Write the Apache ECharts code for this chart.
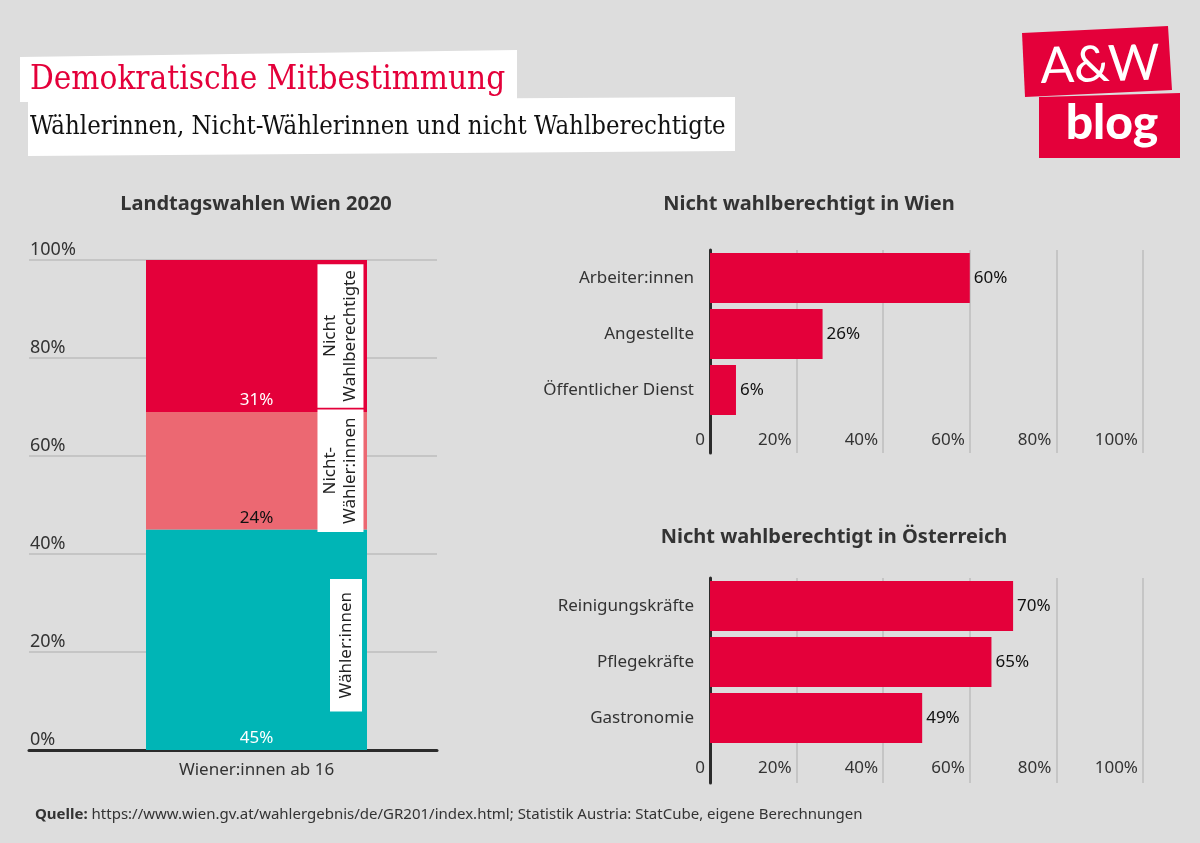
<!DOCTYPE html>
<html>
<head>
<meta charset="utf-8">
<script src="https://cdn.jsdelivr.net/npm/echarts@6/dist/echarts.min.js"></script>
<style>html,body{margin:0;padding:0;background:#dddddd;}#c{width:1200px;height:843px;}</style>
</head>
<body>
<div id="c"></div>
<script>
// ---- data ----
const leftCategory = ['Wiener:innen ab 16'];
const segNames = ['Wähler:innen', 'Nicht-\nWähler:innen', 'Nicht\nWahlberechtigte'];
const segValues = [45, 24, 31];
const wienCats = ['Arbeiter:innen', 'Angestellte', 'Öffentlicher Dienst'];
const wienValues = [60, 26, 6];
const oeCats = ['Reinigungskräfte', 'Pflegekräfte', 'Gastronomie'];
const oeValues = [70, 65, 49];
const pctMax = 100;
const pctStep = 20;

const RED = '#e4003a', PINK = '#ec6872', TEAL = '#00b5b6';
const segColors = [TEAL, PINK, RED];
const segLabelColors = ['#ffffff', '#111111', '#ffffff'];
const FONT = "'Noto Sans', sans-serif";
const SERIF = "'DejaVu Serif Condensed', 'Liberation Serif', serif";
const FS = 17;
const GRID_C = '#bdbdbd', AXIS_C = '#2b2b2b';

const chart = echarts.init(document.getElementById('c'), null, {renderer: 'canvas'});

const pctFmt = v => v === 0 ? '0' : v + '%';

function rightAxes(gMain, gExt, cats) {
  const x = [
    {gridIndex: gMain, type: 'value', min: 0, max: pctMax, interval: pctStep,
     axisLine: {show: false}, axisTick: {show: false},
     splitLine: {show: true, lineStyle: {color: GRID_C, width: 1.5}},
     axisLabel: {formatter: pctFmt, align: 'right', padding: [0, 5, 0, 0], margin: 14,
                 fontSize: FS, color: '#333', fontFamily: FONT}},
    {gridIndex: gExt, type: 'value', min: 0, max: pctMax, interval: pctStep,
     axisLine: {show: false}, axisTick: {show: false}, axisLabel: {show: false},
     splitLine: {show: true, lineStyle: {color: GRID_C, width: 1.5}}}
  ];
  const y = [
    {gridIndex: gMain, type: 'category', data: cats, inverse: true,
     axisLine: {show: true, lineStyle: {color: AXIS_C, width: 3}}, axisTick: {show: false},
     axisLabel: {fontSize: FS, color: '#333', margin: 16, fontFamily: FONT}},
    {gridIndex: gExt, type: 'category', data: [''],
     axisLine: {show: true, lineStyle: {color: AXIS_C, width: 3}}, axisTick: {show: false},
     axisLabel: {show: false}}
  ];
  return {x, y};
}
const r1 = rightAxes(2, 3, wienCats);
const r2 = rightAxes(4, 5, oeCats);

const series = [];
// stacked segments with percent labels
segValues.forEach((v, i) => {
  series.push({
    type: 'bar', xAxisIndex: 1, yAxisIndex: 1, stack: 'v', barWidth: 221, barGap: '-100%',
    name: segNames[i], data: [v], silent: true,
    itemStyle: {color: segColors[i]},
    label: {show: true, position: 'insideBottom', distance: 3, formatter: '{c}%',
            fontSize: FS, color: segLabelColors[i], fontFamily: FONT}
  });
});
// overlay carrying the rotated name boxes
const namePad = [[6, 13], [3, 8], [3, 6]];
const namePos = [['90.5%', '52.5%'], ['88%', '50%'], ['88%', '50%']];
segValues.forEach((v, i) => {
  series.push({
    type: 'bar', xAxisIndex: 1, yAxisIndex: 1, stack: 'n', barWidth: 221, barGap: '-100%',
    name: 'n' + i, data: [v], silent: true, z: 5,
    itemStyle: {color: 'rgba(0,0,0,0)'},
    label: {show: true, position: namePos[i], rotate: 90, align: 'center', verticalAlign: 'middle',
            formatter: segNames[i], backgroundColor: '#ffffff', padding: namePad[i],
            fontSize: FS, lineHeight: 20, color: '#222', fontFamily: FONT}
  });
});
series.push({
  type: 'bar', xAxisIndex: 2, yAxisIndex: 2, data: wienValues, barWidth: 50, silent: true,
  itemStyle: {color: RED},
  label: {show: true, position: 'right', distance: 4, formatter: '{c}%', fontSize: FS, color: '#111', fontFamily: FONT}
});
series.push({
  type: 'bar', xAxisIndex: 4, yAxisIndex: 4, data: oeValues, barWidth: 50, silent: true,
  itemStyle: {color: RED},
  label: {show: true, position: 'right', distance: 4, formatter: '{c}%', fontSize: FS, color: '#111', fontFamily: FONT}
});

const subTitle = {fontSize: 20, fontWeight: 'bold', color: '#333', fontFamily: FONT};

chart.setOption({
  backgroundColor: '#dddddd',
  animation: false,
  title: [
    {text: 'Demokratische Mitbestimmung', left: 30, top: 64, z: 10, padding: 0,
     textStyle: {fontSize: 33, fontWeight: 'normal', color: RED, fontFamily: SERIF}},
    {text: 'Wählerinnen, Nicht-Wählerinnen und nicht Wahlberechtigte', left: 30, top: 114, z: 10, padding: 0,
     textStyle: {fontSize: 25.5, fontWeight: 'normal', color: '#111', fontFamily: SERIF}},
    {text: 'Landtagswahlen Wien 2020', left: 256, top: 194, padding: 0, textAlign: 'center', textStyle: subTitle},
    {text: 'Nicht wahlberechtigt in Wien', left: 809, top: 194, padding: 0, textAlign: 'center', textStyle: subTitle},
    {text: 'Nicht wahlberechtigt in Österreich', left: 834, top: 527, padding: 0, textAlign: 'center', textStyle: subTitle},
    {text: '{b|Quelle:} https://www.wien.gv.at/wahlergebnis/de/GR201/index.html; Statistik Austria: StatCube, eigene Berechnungen',
     left: 35, top: 807, padding: 0,
     textStyle: {fontSize: 15, fontWeight: 'normal', color: '#333', fontFamily: FONT,
                 rich: {b: {fontSize: 15, fontWeight: 'bold', color: '#333', fontFamily: FONT}}}}
  ],
  graphic: [
    {type: 'polygon', z: 1, shape: {points: [[20, 57], [517, 50], [517, 100], [20, 102]]}, style: {fill: '#ffffff'}},
    {type: 'polygon', z: 1, shape: {points: [[28, 101], [735, 97], [735, 151], [28, 156]]}, style: {fill: '#ffffff'}},
    {type: 'polygon', z: 1, shape: {points: [[1022, 33], [1168, 26], [1172, 90], [1025, 97]]}, style: {fill: RED}},
    {type: 'polygon', z: 1, shape: {points: [[1039, 97], [1180, 93], [1180, 158], [1039, 158]]}, style: {fill: RED}},
    {type: 'text', z: 2, x: 1100, y: 65, rotation: 0.03,
     style: {text: 'A&W', fill: '#fff', fontSize: 50, fontWeight: 'normal', fontFamily: "Lato, 'Open Sans', sans-serif", align: 'center', verticalAlign: 'middle'}},
    {type: 'text', z: 2, x: 1112, y: 124,
     style: {text: 'blog', fill: '#fff', fontSize: 48, fontWeight: 900, fontFamily: "Lato, 'Open Sans', sans-serif", align: 'center', verticalAlign: 'middle'}}
  ],
  grid: [
    {left: 29, right: 763, top: 260, bottom: 93},
    {left: 76, right: 763, top: 260, bottom: 93},
    {left: 710, right: 57, top: 250, height: 168},
    {left: 710, right: 57, top: 418, height: 35},
    {left: 710, right: 57, top: 578, height: 168},
    {left: 710, right: 57, top: 746, height: 37}
  ],
  xAxis: [
    {gridIndex: 0, type: 'value', min: 0, max: 1, axisLine: {show: true, onZero: false, lineStyle: {color: AXIS_C, width: 3}},
     axisTick: {show: false}, axisLabel: {show: false}, splitLine: {show: false}},
    {gridIndex: 1, type: 'category', data: leftCategory, axisLine: {show: false}, axisTick: {show: false},
     axisLabel: {fontSize: FS, color: '#333', margin: 12, fontFamily: FONT}},
    r1.x[0], r1.x[1], r2.x[0], r2.x[1]
  ],
  yAxis: [
    {gridIndex: 0, type: 'value', min: 0, max: pctMax, interval: pctStep,
     axisLine: {show: false}, axisTick: {show: false},
     splitLine: {show: true, lineStyle: {color: GRID_C, width: 1.5}},
     axisLabel: {inside: true, margin: 1, formatter: '{value}%', align: 'left', verticalAlign: 'bottom',
                 padding: [0, 0, 1, 0], fontSize: 18, color: '#333', fontFamily: FONT}},
    {gridIndex: 1, type: 'value', min: 0, max: pctMax, show: false, splitLine: {show: false}},
    r1.y[0], r1.y[1], r2.y[0], r2.y[1]
  ],
  series: series
});
</script>
</body>
</html>
